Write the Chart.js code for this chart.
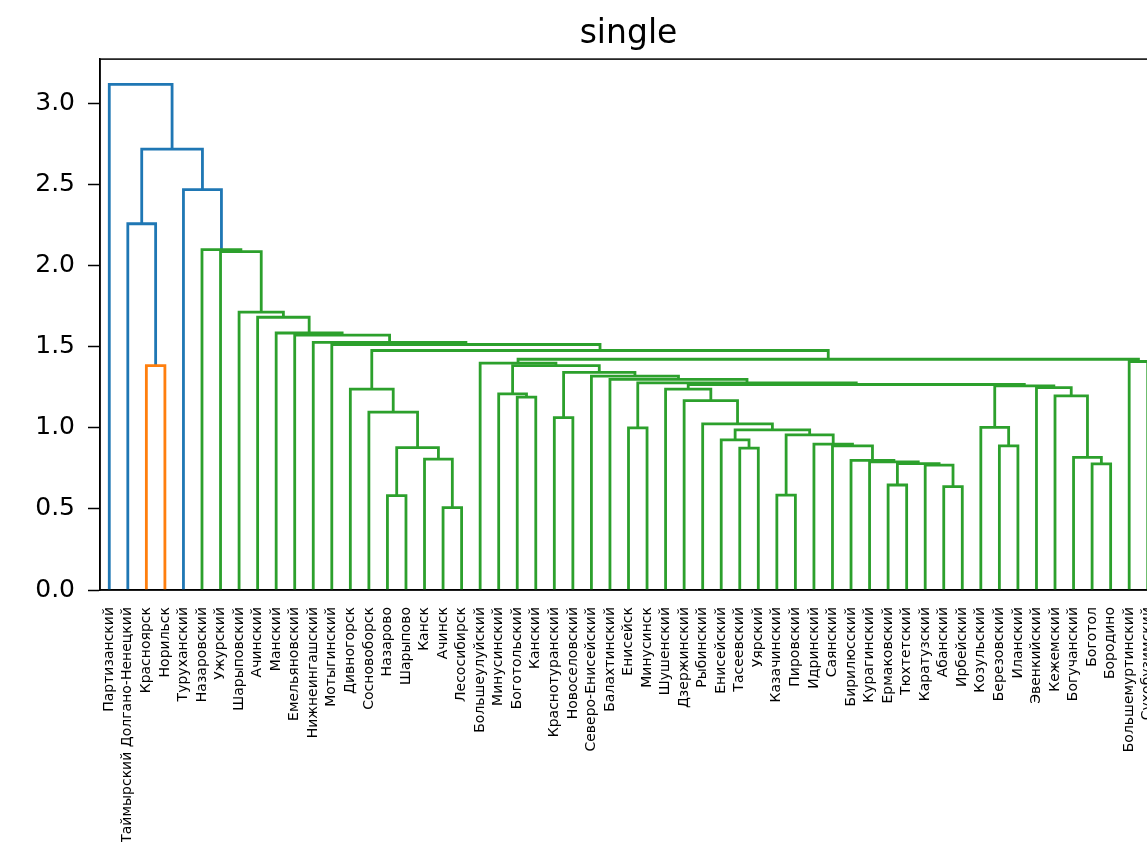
<!DOCTYPE html>
<html>
<head>
<meta charset="utf-8">
<script src="https://cdn.jsdelivr.net/npm/chart.js@4.4.1/dist/chart.umd.min.js"></script>
<style>
  html, body { margin: 0; padding: 0; background: #fff; overflow: hidden; }
  #wrap { width: 1170px; height: 842px; }
</style>
</head>
<body>
<div id="wrap"><canvas id="dendro" width="1170" height="842"></canvas></div>
<script>
// Листья дендрограммы в порядке отображения слева направо
const leafLabels = [
    'Партизанский', 'Таймырский Долгано-Ненецкий', 'Красноярск', 'Норильск', 'Туруханский',
    'Назаровский', 'Ужурский', 'Шарыповский', 'Ачинский', 'Манский',
    'Емельяновский', 'Нижнеингашский', 'Мотыгинский', 'Дивногорск', 'Сосновоборск',
    'Назарово', 'Шарыпово', 'Канск', 'Ачинск', 'Лесосибирск',
    'Большеулуйский', 'Минусинский', 'Боготольский', 'Канский', 'Краснотуранский',
    'Новоселовский', 'Северо-Енисейский', 'Балахтинский', 'Енисейск', 'Минусинск',
    'Шушенский', 'Дзержинский', 'Рыбинский', 'Енисейский', 'Тасеевский',
    'Уярский', 'Казачинский', 'Пировский', 'Идринский', 'Саянский',
    'Бирилюсский', 'Курагинский', 'Ермаковский', 'Тюхтетский', 'Каратузский',
    'Абанский', 'Ирбейский', 'Козульский', 'Березовский', 'Иланский',
    'Эвенкийский', 'Кежемский', 'Богучанский', 'Боготол', 'Бородино',
    'Большемуртинский', 'Сухобузимский'
];

// Слияния: [узел, левый потомок, правый потомок, высота]
// числа - индексы листьев, строки - ранее созданные кластеры
const merges = [
    ['O', 2, 3, 1.385],
    ['B2', 1, 'O', 2.26],
    ['A5', 18, 19, 0.508],
    ['A3', 15, 16, 0.582],
    ['A4', 17, 'A5', 0.807],
    ['A2', 'A3', 'A4', 0.878],
    ['A1', 14, 'A2', 1.097],
    ['A', 13, 'A1', 1.24],
    ['C2a', 22, 23, 1.19],
    ['C2', 21, 'C2a', 1.21],
    ['C4', 24, 25, 1.064],
    ['E', 28, 29, 1.0],
    ['D1', 34, 35, 0.875],
    ['D2', 33, 'D1', 0.926],
    ['D7', 36, 37, 0.585],
    ['Q1', 42, 43, 0.648],
    ['Q2', 45, 46, 0.638],
    ['Q3', 44, 'Q2', 0.77],
    ['Q4', 'Q1', 'Q3', 0.78],
    ['P1', 41, 'Q4', 0.79],
    ['P0', 40, 'P1', 0.80],
    ['D8b', 39, 'P0', 0.889],
    ['D8', 38, 'D8b', 0.90],
    ['D6', 'D7', 'D8', 0.957],
    ['D3', 'D2', 'D6', 0.988],
    ['D5', 32, 'D3', 1.025],
    ['D9', 31, 'D5', 1.169],
    ['D10', 30, 'D9', 1.239],
    ['K1', 48, 49, 0.889],
    ['K2', 47, 'K1', 1.004],
    ['L1', 53, 54, 0.778],
    ['L2', 52, 'L1', 0.819],
    ['L3', 51, 'L2', 1.198],
    ['L4', 50, 'L3', 1.249],
    ['L5', 'K2', 'L4', 1.259],
    ['M', 'D10', 'L5', 1.268],
    ['F', 'E', 'M', 1.278],
    ['H', 27, 'F', 1.30],
    ['I', 26, 'H', 1.32],
    ['C3', 'C4', 'I', 1.343],
    ['C1', 'C2', 'C3', 1.385],
    ['C', 20, 'C1', 1.40],
    ['N', 55, 56, 1.41],
    ['B', 'C', 'N', 1.424],
    ['G9', 'A', 'B', 1.478],
    ['G8', 12, 'G9', 1.515],
    ['G7', 11, 'G8', 1.528],
    ['G6', 10, 'G7', 1.573],
    ['G5', 9, 'G6', 1.586],
    ['G4', 8, 'G5', 1.683],
    ['G3', 7, 'G4', 1.715],
    ['G2', 6, 'G3', 2.088],
    ['G1', 5, 'G2', 2.10],
    ['B1', 4, 'G1', 2.47],
    ['B3', 'B2', 'B1', 2.72],
    ['root', 0, 'B3', 3.12]
];

const yTicks = [0, 0.5, 1.0, 1.5, 2.0, 2.5, 3.0];
const clusterPalette = ['#ff7f0e', '#2ca02c', '#d62728', '#9467bd', '#8c564b'];
const aboveColor = '#1f77b4';

(function() {
    // --- строим дерево как в scipy: листья на 5, 15, 25 ... ---
    const nodes = {};
    leafLabels.forEach((lab, i) => { nodes[i] = { x: 5 + 10 * i, h: 0 }; });
    merges.forEach(([name, a, b, h]) => {
        nodes[name] = { a: a, b: b, h: h, x: (nodes[a].x + nodes[b].x) / 2 };
    });

    const maxH = Math.max(...merges.map(m => m[3]));
    const threshold = 0.7 * maxH; // порог раскраски по умолчанию
    const yMax = maxH * 1.05;

    // раскраска: каждый кластер ниже порога получает свой цвет слева направо
    let paletteIdx = 0;
    const linkColor = {};
    function paint(name, color) {
        const n = nodes[name];
        if (n.a === undefined) return;
        let c = color;
        if (!c && n.h < threshold) {
            c = clusterPalette[paletteIdx % clusterPalette.length];
            paletteIdx++;
        }
        linkColor[name] = c || aboveColor;
        paint(n.a, c);
        paint(n.b, c);
    }
    paint('root', null);

    const datasets = merges.map(([name, a, b, h]) => ({
        data: [
            { x: nodes[a].x, y: nodes[a].h },
            { x: nodes[a].x, y: h },
            { x: nodes[b].x, y: h },
            { x: nodes[b].x, y: nodes[b].h }
        ],
        borderColor: linkColor[name],
        borderWidth: 2.8,
        pointRadius: 0,
        fill: false,
        tension: 0,
        borderJoinStyle: 'miter'
    }));

    // рамка осей как в matplotlib
    const frame = {
        id: 'frame',
        afterDatasetsDraw(chart) {
            const a = chart.chartArea;
            const ctx = chart.ctx;
            ctx.save();
            ctx.strokeStyle = '#000';
            ctx.lineWidth = 1.5;
            ctx.strokeRect(a.left, a.top, a.right - a.left, a.bottom - a.top);
            ctx.restore();
        }
    };

    new Chart(document.getElementById('dendro'), {
        type: 'line',
        data: { datasets: datasets },
        options: {
            responsive: false,
            animation: false,
            layout: { padding: { left: 0, right: 13, top: 0, bottom: 0 } },
            plugins: {
                legend: { display: false },
                tooltip: { enabled: false },
                title: {
                    display: true,
                    text: 'single',
                    fullSize: false,
                    color: '#000',
                    font: { family: 'DejaVu Sans', size: 33, weight: 'normal' },
                    padding: { top: 15, bottom: 4.5 }
                }
            },
            scales: {
                x: {
                    type: 'linear',
                    min: 0,
                    max: 10 * leafLabels.length,
                    afterBuildTicks: scale => {
                        scale.ticks = leafLabels.map((l, i) => ({ value: 5 + 10 * i }));
                    },
                    afterFit: scale => {
                        scale.height = 252;
                        scale.paddingLeft = 0;
                        scale.paddingRight = 0;
                    },
                    ticks: {
                        autoSkip: false,
                        maxRotation: 90,
                        minRotation: 90,
                        padding: 17,
                        color: '#000',
                        font: { family: 'DejaVu Sans', size: 14 },
                        callback: v => leafLabels[Math.round((v - 5) / 10)]
                    },
                    grid: { drawOnChartArea: false, drawTicks: false },
                    border: { display: true, color: '#000', width: 1.5 }
                },
                y: {
                    type: 'linear',
                    min: 0,
                    max: yMax,
                    afterBuildTicks: scale => {
                        scale.ticks = yTicks.map(v => ({ value: v }));
                    },
                    afterFit: scale => {
                        scale.width = 100;
                        scale.paddingTop = 0;
                        scale.paddingBottom = 0;
                    },
                    ticks: {
                        padding: 13,
                        color: '#000',
                        font: { family: 'DejaVu Sans', size: 25 },
                        callback: v => Number(v).toFixed(1)
                    },
                    grid: { drawOnChartArea: false, drawTicks: true, tickLength: 12, tickWidth: 1.5, tickColor: '#000' },
                    border: { display: true, color: '#000', width: 1.5 }
                }
            }
        },
        plugins: [frame]
    });
})();
</script>
</body>
</html>
